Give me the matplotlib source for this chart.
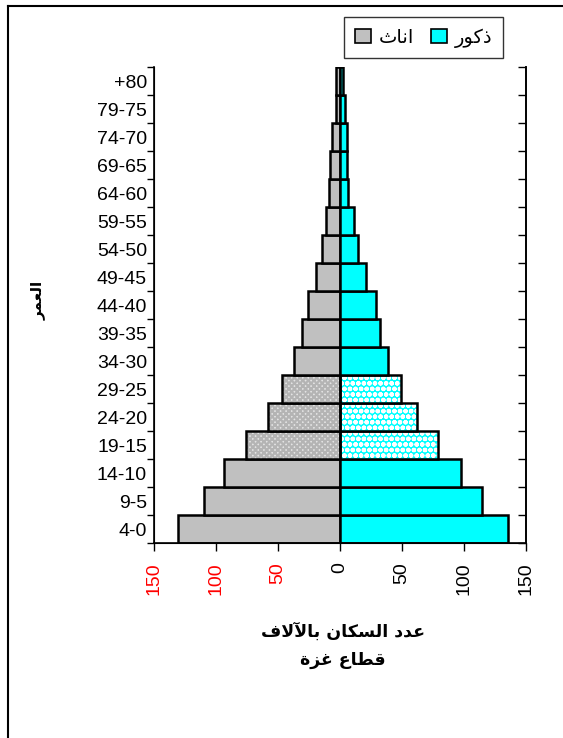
import matplotlib
matplotlib.use('Agg')
import matplotlib.pyplot as plt
from matplotlib.patches import Patch
from matplotlib.lines import Line2D
import numpy as np

# age groups, bottom to top
ages = ['4-0', '9-5', '14-10', '19-15', '24-20', '29-25', '34-30', '39-35', '44-40',
        '49-45', '54-50', '59-55', '64-60', '69-65', '74-70', '79-75', '+80']
# population in thousands
females = [130.4, 109.7, 93.3, 75.8, 58.3, 47.0, 36.9, 30.4, 26.0,
           19.6, 14.5, 11.5, 8.6, 8.3, 6.7, 3.5, 3.5]
males = [135.7, 114.8, 97.3, 79.3, 61.8, 49.0, 38.8, 32.3, 29.0,
         21.0, 14.8, 11.3, 6.5, 5.9, 5.4, 4.0, 2.2]
patterned = ['19-15', '24-20', '29-25']
xticks = [-150, -100, -50, 0, 50, 100, 150]

# matplotlib does no arabic shaping, so join letters by hand (presentation forms)
ARABIC_FORMS = {
    '\u0627': (0xFE8D, 0xFE8E),  # alef
    '\u0622': (0xFE81, 0xFE82),  # alef madda
    '\u0628': (0xFE8F, 0xFE90, 0xFE91, 0xFE92),  # beh
    '\u0629': (0xFE93, 0xFE94),  # teh marbuta
    '\u062B': (0xFE99, 0xFE9A, 0xFE9B, 0xFE9C),  # theh
    '\u062F': (0xFEA9, 0xFEAA),  # dal
    '\u0630': (0xFEAB, 0xFEAC),  # thal
    '\u0631': (0xFEAD, 0xFEAE),  # reh
    '\u0632': (0xFEAF, 0xFEB0),  # zain
    '\u0633': (0xFEB1, 0xFEB2, 0xFEB3, 0xFEB4),  # seen
    '\u0637': (0xFEC1, 0xFEC2, 0xFEC3, 0xFEC4),  # tah
    '\u0639': (0xFEC9, 0xFECA, 0xFECB, 0xFECC),  # ain
    '\u063A': (0xFECD, 0xFECE, 0xFECF, 0xFED0),  # ghain
    '\u0641': (0xFED1, 0xFED2, 0xFED3, 0xFED4),  # feh
    '\u0642': (0xFED5, 0xFED6, 0xFED7, 0xFED8),  # qaf
    '\u0643': (0xFED9, 0xFEDA, 0xFEDB, 0xFEDC),  # kaf
    '\u0644': (0xFEDD, 0xFEDE, 0xFEDF, 0xFEE0),  # lam
    '\u0645': (0xFEE1, 0xFEE2, 0xFEE3, 0xFEE4),  # meem
    '\u0646': (0xFEE5, 0xFEE6, 0xFEE7, 0xFEE8),  # noon
    '\u0648': (0xFEED, 0xFEEE),  # waw
}
LAM_ALEF = {'\u0627': (0xFEFB, 0xFEFC), '\u0622': (0xFEF5, 0xFEF6)}


def shape(text):
    chars = []
    i = 0
    while i < len(text):
        c = text[i]
        if c == '\u0644' and i + 1 < len(text) and text[i + 1] in LAM_ALEF:
            chars.append(LAM_ALEF[text[i + 1]])
            i += 2
        else:
            chars.append(ARABIC_FORMS.get(c, c))
            i += 1
    out = []
    for k, f in enumerate(chars):
        if isinstance(f, str):
            out.append(f)
            continue
        prev = chars[k - 1] if k > 0 else None
        nxt = chars[k + 1] if k + 1 < len(chars) else None
        join_prev = isinstance(prev, tuple) and len(prev) == 4
        join_next = len(f) == 4 and isinstance(nxt, tuple)
        if join_prev and join_next:
            idx = 3
        elif join_prev:
            idx = 1
        elif join_next:
            idx = 2
        else:
            idx = 0
        out.append(chr(f[idx]))
    # right to left -> visual order
    return ''.join(reversed(out))


plt.rcParams['font.family'] = ['Liberation Sans', 'DejaVu Sans']
plt.rcParams['hatch.linewidth'] = 1.6

fig = plt.figure(figsize=(5.63, 7.38), dpi=100)
ax = fig.add_axes([154 / 563, 1 - 543 / 738, 372 / 563, 476 / 738])

y = np.arange(len(ages))
gray = '#c0c0c0'
cyan = '#00ffff'
lw = 1.8

for i, age in enumerate(ages):
    if age in patterned:
        # fine grey checker on white, white dots on cyan
        ax.barh(i, -females[i], height=1, color='#e4e4e4', edgecolor='#b4b4b4',
                hatch='xxxxxx', linewidth=0)
        ax.barh(i, males[i], height=1, color=cyan, edgecolor='white',
                hatch='ooo', linewidth=0)
        ax.barh(i, -females[i], height=1, fill=False, edgecolor='black', linewidth=lw)
        ax.barh(i, males[i], height=1, fill=False, edgecolor='black', linewidth=lw)
    else:
        ax.barh(i, -females[i], height=1, color=gray, edgecolor='black', linewidth=lw)
        ax.barh(i, males[i], height=1, color=cyan, edgecolor='black', linewidth=lw)

ax.set_xlim(-150, 150)
ax.set_ylim(-0.5, len(ages) - 0.5)

# y: ticks on the category boundaries, labels in the middle
ax.set_yticks(np.arange(len(ages) + 1) - 0.5)
ax.set_yticklabels([])
ax.set_yticks(y, minor=True)
ax.set_yticklabels(ages, minor=True, fontsize=14)
ax.tick_params(axis='y', which='major', direction='out', length=5, width=1)
ax.tick_params(axis='y', which='minor', length=0, pad=5)

ax.set_xticks(xticks)
ax.set_xticklabels([str(abs(v)) for v in xticks], rotation=90, fontsize=14, va='top')
for lab, v in zip(ax.get_xticklabels(), xticks):
    if v < 0:
        lab.set_color('#ff0000')
ax.tick_params(axis='x', direction='out', length=6, width=1, pad=8)

ax.spines['top'].set_visible(False)
for s in ['left', 'right', 'bottom']:
    ax.spines[s].set_linewidth(1.2)

# right side ticks point inwards
ax2 = ax.twinx()
ax2.set_ylim(ax.get_ylim())
ax2.set_yticks(np.arange(len(ages) + 1) - 0.5)
ax2.set_yticklabels([])
ax2.tick_params(axis='y', direction='in', length=6, width=1)
ax2.spines['top'].set_visible(False)
ax2.spines['right'].set_linewidth(1.2)

handles = [Patch(facecolor=gray, edgecolor='black', linewidth=1.2),
           Patch(facecolor=cyan, edgecolor='black', linewidth=1.2)]
leg = fig.legend(handles, [shape('اناث'), shape('ذكور')], ncol=2,
                 loc='upper right', bbox_to_anchor=(503 / 563, 1 - 17 / 738),
                 borderaxespad=0, frameon=True, fancybox=False, edgecolor='black',
                 handlelength=0.8, handleheight=0.8,
                 handletextpad=0.4, columnspacing=0.9, borderpad=0.55,
                 prop={'family': 'DejaVu Sans', 'size': 14})
leg.get_frame().set_linewidth(1)

fig.text(343 / 563, 1 - 632 / 738, shape('عدد السكان بالآلاف'), ha='center', va='center',
         fontsize=12.5, fontweight='bold', family='DejaVu Sans')
fig.text(343 / 563, 1 - 660 / 738, shape('قطاع غزة'), ha='center', va='center',
         fontsize=12.5, fontweight='bold', family='DejaVu Sans')
fig.text(38 / 563, 1 - 300 / 738, shape('العمر'), ha='center', va='center', rotation=90,
         fontsize=11, fontweight='bold', family='DejaVu Sans')

# outer frame (left and top edges are visible)
fig.add_artist(Line2D([8 / 563, 8 / 563], [0, 1 - 6 / 738], color='black', linewidth=1.5))
fig.add_artist(Line2D([8 / 563, 1], [1 - 6 / 738, 1 - 6 / 738], color='black', linewidth=1.5))

fig.savefig('out.png', dpi=100)
